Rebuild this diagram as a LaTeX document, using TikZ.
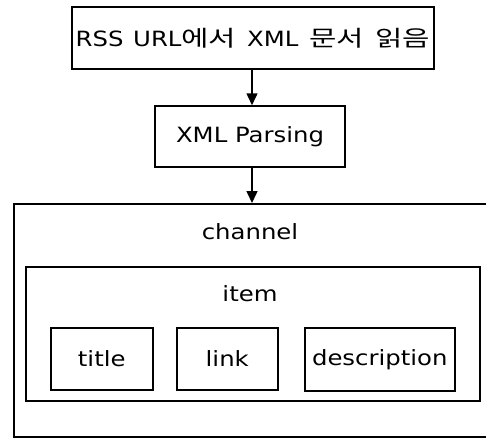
\documentclass[tikz,border=0pt]{standalone}
\usepackage{fontspec}
\setmainfont{DejaVu Sans}[FakeStretch=1.16]
\newfontfamily\kr{Noto Sans CJK KR}[FakeStretch=1.35, Scale=1.05]
\usetikzlibrary{arrows.meta}
\begin{document}
\begin{tikzpicture}[x=1pt,y=-1pt,
  box/.style={draw, line width=1.5pt, inner sep=0pt, font=\fontsize{21}{25}\selectfont},
  lbl/.style={inner sep=0pt, font=\fontsize{21}{25}\selectfont},
  arr/.style={line width=1.5pt, -{Triangle[width=11pt,length=12pt]}}]
\useasboundingbox (0,0) rectangle (486,437);
\node[box, minimum width=362pt, minimum height=62pt] (src) at (253,38) {RSS\hspace{2pt} URL{\kr 에서}\hspace{3pt} XML\hspace{3pt} {\kr 문서}\hspace{4pt} {\kr 읽음}};
\node[box, minimum width=190pt, minimum height=61pt] (parse) at (250,136.5) {XML Parsing};
\node[box, anchor=north west, minimum width=490pt, minimum height=233pt] (channel) at (13,203) {};
\node[lbl] (chlabel) at (250,232) {channel};
\node[box, anchor=north west, minimum width=454pt, minimum height=134pt] (item) at (25,266) {};
\node[lbl] (itlabel) at (250,294) {item};
\node[box, anchor=north west, minimum width=102pt, minimum height=62pt] (title) at (50,327) {title};
\node[box, anchor=north west, minimum width=101pt, minimum height=62pt] (link) at (176,327) {link};
\node[box, anchor=north west, minimum width=150pt, minimum height=63pt] (desc) at (304,327) {description};
\coordinate (ax) at (252,0);
\draw[arr] (src.south -| ax) -- (parse.north -| ax);
\draw[arr] (parse.south -| ax) -- (channel.north -| ax);
\end{tikzpicture}
\end{document}
